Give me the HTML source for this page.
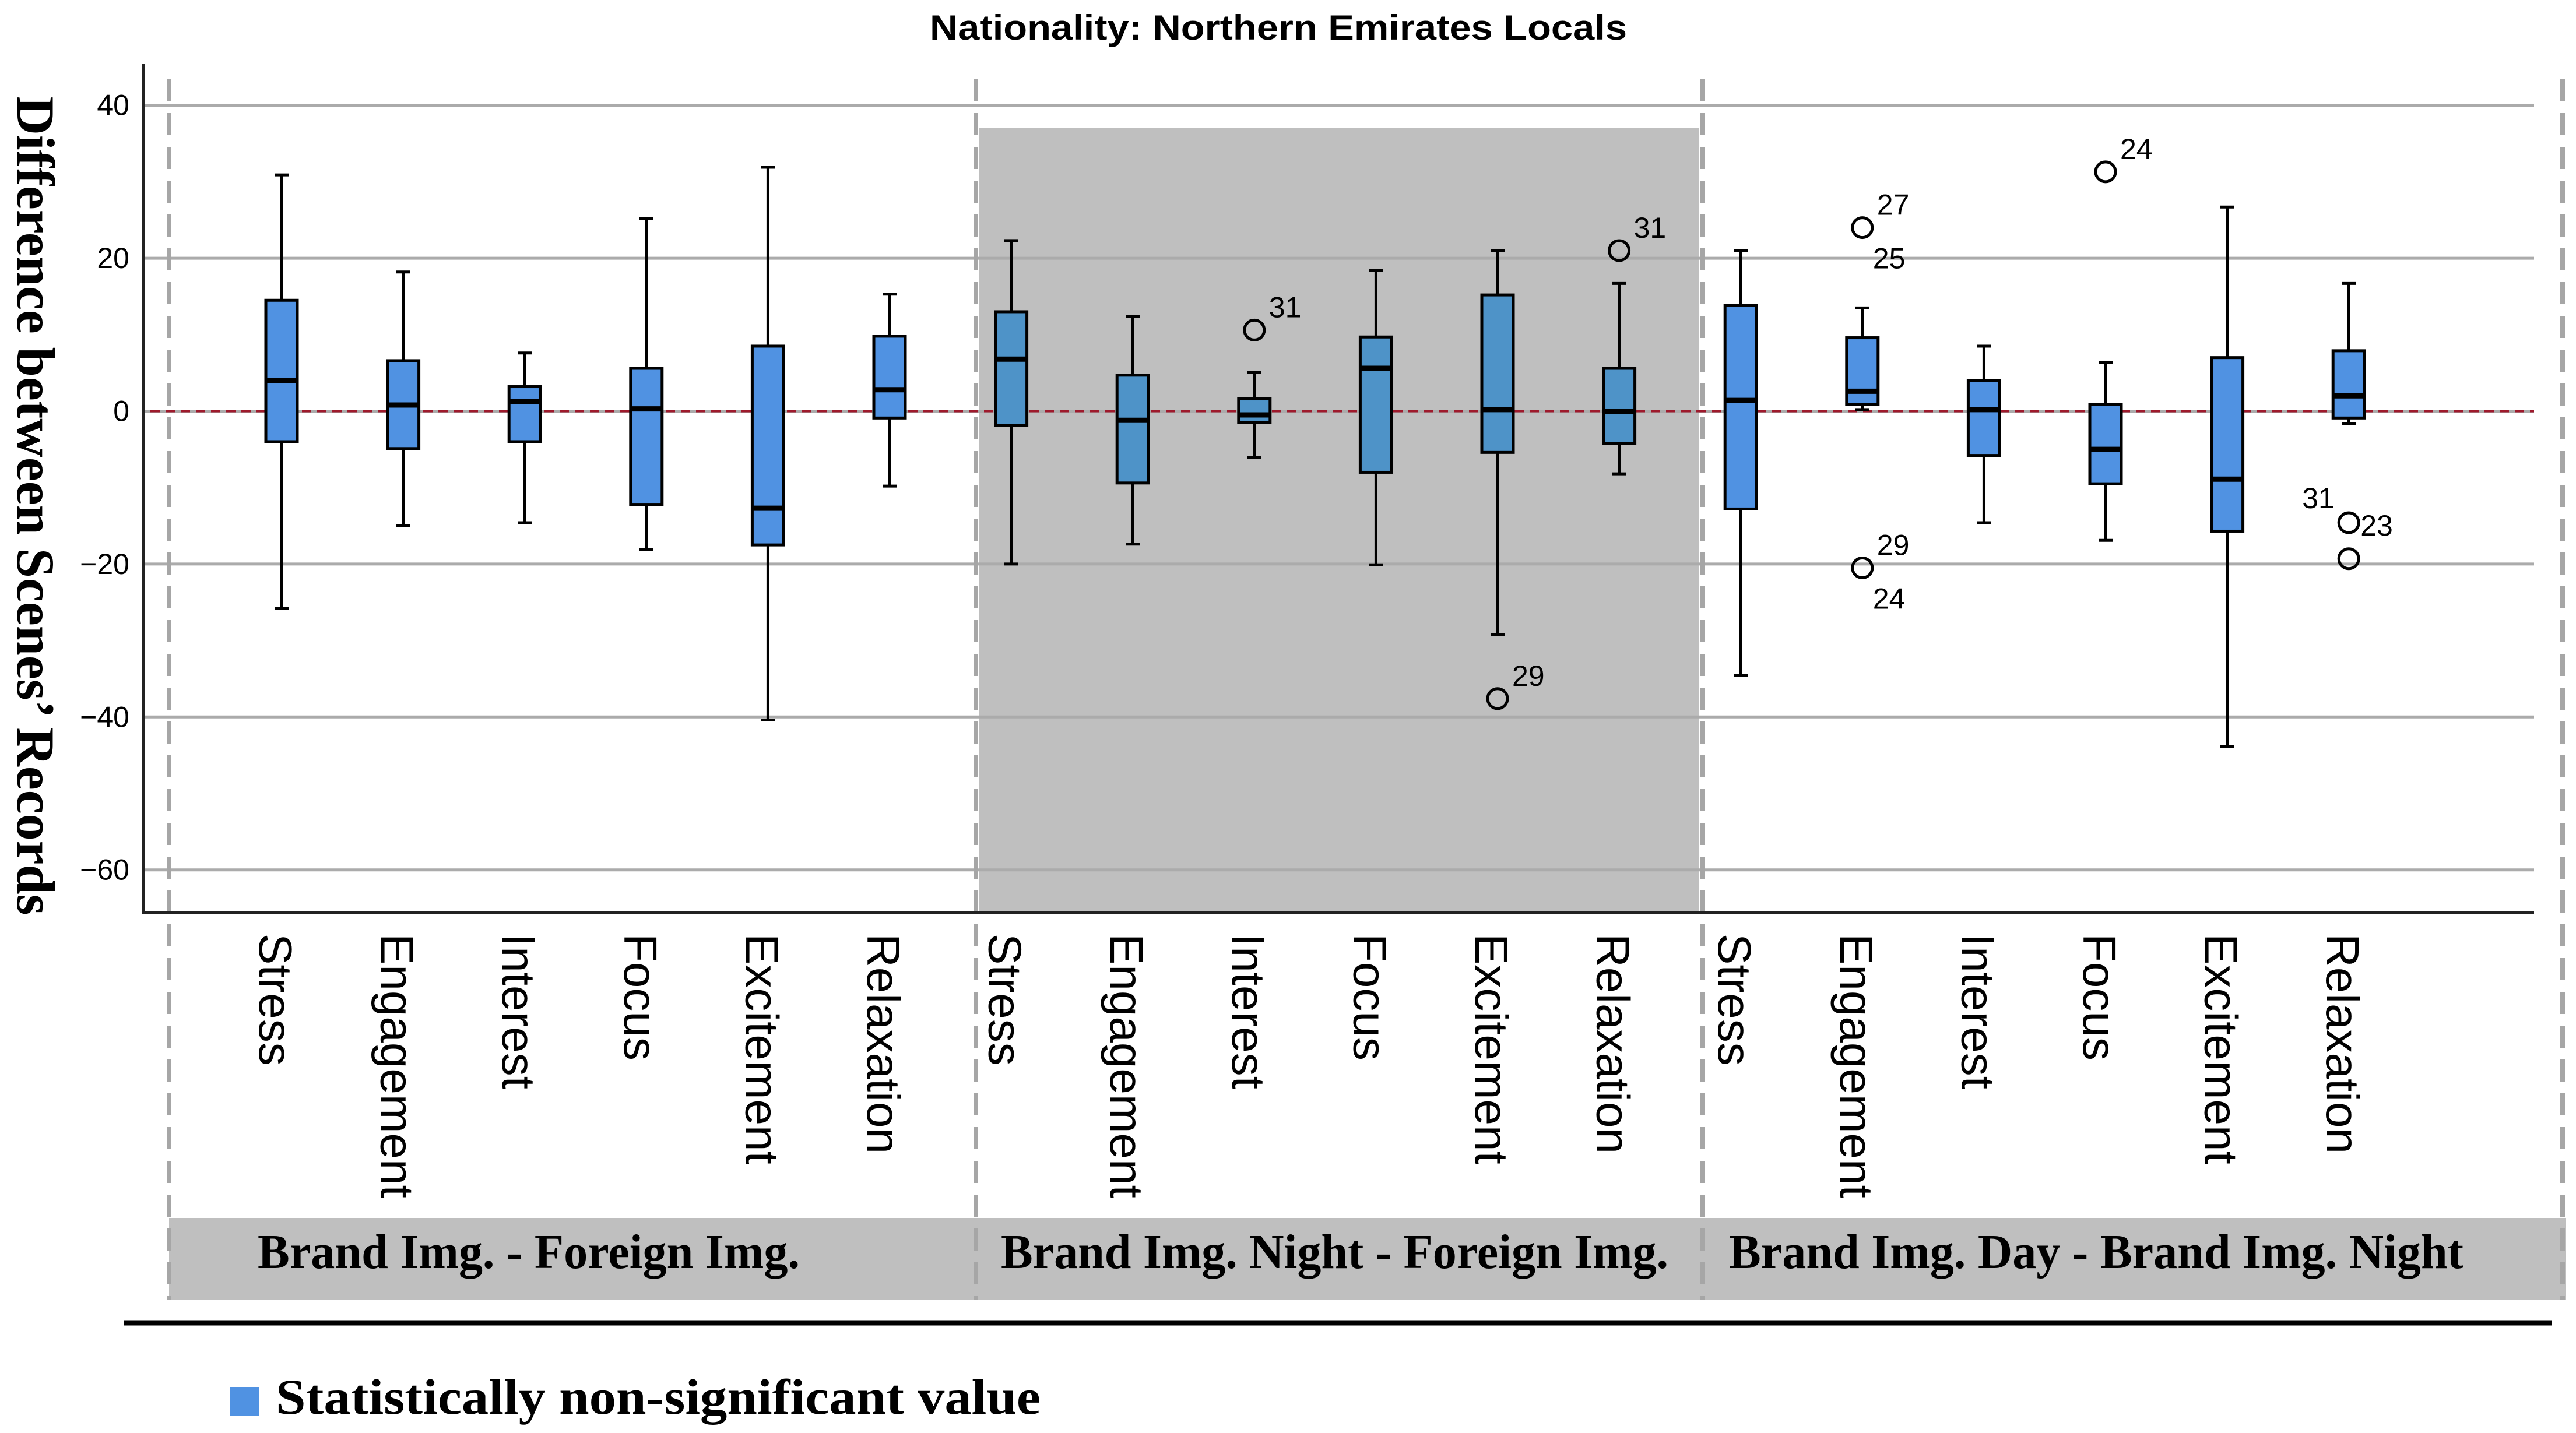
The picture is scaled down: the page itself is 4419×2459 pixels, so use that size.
<!DOCTYPE html>
<html><head><meta charset="utf-8"><style>
html,body{margin:0;padding:0;background:#fff;}
svg{display:block;}
</style></head><body>
<svg id="chart" width="4419" height="2459" viewBox="0 0 4419 2459" xmlns="http://www.w3.org/2000/svg">
<rect x="0" y="0" width="4419" height="2459" fill="#fff"/>
<text x="2193" y="68" text-anchor="middle" font-family="Liberation Sans, sans-serif" font-weight="bold" font-size="60" textLength="1196" lengthAdjust="spacingAndGlyphs">Nationality: Northern Emirates Locals</text>
<text transform="translate(30,868) rotate(90)" text-anchor="middle" font-family="Liberation Serif, serif" font-weight="bold" font-size="92" textLength="1405" lengthAdjust="spacingAndGlyphs">Difference between Scenes’ Records</text>
<g id="layer"></g>
</svg>
<script>
const categories = ["Stress","Engagement","Interest","Focus","Excitement","Relaxation","Stress","Engagement","Interest","Focus","Excitement","Relaxation","Stress","Engagement","Interest","Focus","Excitement","Relaxation"];
const groups = ["Brand Img. - Foreign Img.","Brand Img. Night - Foreign Img.","Brand Img. Day - Brand Img. Night"];
const whiskerHigh = [30.9,18.2,7.6,25.2,31.9,15.3, 22.3,12.4,5.1,18.4,21.0,16.7, 21.0,13.5,8.5,6.4,26.7,16.7];
const q3 = [14.5,6.6,3.2,5.6,8.5,9.8, 13.0,4.7,1.6,9.7,15.2,5.6, 13.8,9.6,4.0,0.9,7.0,7.9];
const medians = [4.0,0.8,1.3,0.3,-12.7,2.8, 6.8,-1.2,-0.5,5.6,0.2,0.0, 1.4,2.6,0.2,-5.0,-8.9,2.0];
const q1 = [-4.0,-4.9,-4.0,-12.2,-17.5,-0.9, -1.9,-9.4,-1.5,-8.0,-5.4,-4.2, -12.8,0.9,-5.8,-9.5,-15.7,-0.9];
const whiskerLow = [-25.8,-15.0,-14.6,-18.1,-40.4,-9.8, -20.0,-17.4,-6.1,-20.1,-29.2,-8.2, -34.6,0.2,-14.6,-16.9,-43.9,-1.6];
const outlierIndex = [8,10,11,13,13,15,17,17];
const outlierValue = [10.6,-37.6,21.0,24.0,-20.5,31.3,-14.6,-19.3];
const outlierLabels = [["31"],["29"],["31"],["27","25"],["29","24"],["24"],["31","23"],[]];
const yTicks = [40,20,0,-20,-40,-60];

const NS="http://www.w3.org/2000/svg";
const layer=document.getElementById('layer');
function mk(tag,attrs,parent){const e=document.createElementNS(NS,tag);for(const k in attrs)e.setAttribute(k,attrs[k]);(parent||layer).appendChild(e);return e;}
const y=v=>705.5-v*13.12;
const x=i=>483+i*208.6;
const PL=246,PR=4347,PT=109,PB=1566;

let r=mk('rect',{x:1679,y:219,width:1235,height:PB-219,fill:'#bfbfbf'});


yTicks.forEach(t=>{
  let g=mk('line',{x1:PL,x2:PR,y1:y(t),y2:y(t),stroke:'#ababab','stroke-width':5});
  
  
  let tx=mk('text',{x:222,y:y(t)+17,'text-anchor':'end','font-family':'Liberation Sans, sans-serif','font-size':50});
  tx.textContent=(t<0?'\u2212'+(-t):t);
  
  
});
let band=mk('rect',{x:290,y:2090,width:4112,height:140,fill:'#bfbfbf'});


const gx=[442,1717,2966],gw=[930,1145,1260];
groups.forEach((g,i)=>{
  let t=mk('text',{x:gx[i],y:2176,'font-family':'Liberation Serif, serif','font-weight':'bold','font-size':84,textLength:gw[i],lengthAdjust:'spacingAndGlyphs'});
  t.textContent=g;
  
  
});
[290,1674,2921,4396].forEach(dx=>{
  let l=mk('line',{x1:dx,x2:dx,y1:136,y2:2230,stroke:'#a6a6a6','stroke-width':8,'stroke-dasharray':'38 20'});
  
  
});
let z=mk('line',{x1:258,x2:PR,y1:y(0),y2:y(0),stroke:'#9e1a2c','stroke-width':4,'stroke-dasharray':'16 10'});


let ya=mk('line',{x1:PL,x2:PL,y1:PT,y2:PB+2,stroke:'#222','stroke-width':5});


let xa=mk('line',{x1:PL,x2:PR,y1:PB,y2:PB,stroke:'#222','stroke-width':5});


const BW=54,CW=24;
categories.forEach((c,i)=>{
  const cx=x(i);
  const g=mk('g',{});
  
  
  mk('line',{x1:cx,x2:cx,y1:y(whiskerHigh[i]),y2:y(q3[i]),stroke:'#000','stroke-width':5},g);
  mk('line',{x1:cx,x2:cx,y1:y(q1[i]),y2:y(whiskerLow[i]),stroke:'#000','stroke-width':5},g);
  mk('line',{x1:cx-CW/2,x2:cx+CW/2,y1:y(whiskerHigh[i]),y2:y(whiskerHigh[i]),stroke:'#000','stroke-width':5},g);
  mk('line',{x1:cx-CW/2,x2:cx+CW/2,y1:y(whiskerLow[i]),y2:y(whiskerLow[i]),stroke:'#000','stroke-width':5},g);
  const fill=(i>=6&&i<12)?'#4e93c8':'#5092e2';
  mk('rect',{x:cx-BW/2,y:y(q3[i]),width:BW,height:y(q1[i])-y(q3[i]),fill:fill,stroke:'#000','stroke-width':5},g);
  mk('line',{x1:cx-BW/2,x2:cx+BW/2,y1:y(medians[i]),y2:y(medians[i]),stroke:'#000','stroke-width':9},g);
  const t=mk('text',{transform:`translate(${cx-38},1602) rotate(90)`,'font-family':'Liberation Sans, sans-serif','font-size':80});
  t.textContent=c;
  
  
});
outlierIndex.forEach((idx,k)=>{
  const cx=x(idx),cy=y(outlierValue[k]);
  const o=mk('circle',{cx:cx,cy:cy,r:17,fill:'none',stroke:'#000','stroke-width':5});
  
  
});
function lbl(txt,lx,ly){const t=mk('text',{x:lx,y:ly,'font-family':'Liberation Sans, sans-serif','font-size':50});t.textContent=txt;
  
  }
outlierIndex.forEach((idx,k)=>{
  const cx=x(idx),cy=y(outlierValue[k]);const L=outlierLabels[k];
  if(L.length===0)return;
  if(idx===17&&L.length===2){lbl(L[0],cx-80,cy-25);lbl(L[1],cx+20,cy+22);return;}
  lbl(L[0],cx+25,cy-22);
  if(L.length>1)lbl(L[1],cx+18,cy+70);
});
let sep=mk('line',{x1:212,x2:4377,y1:2270,y2:2270,stroke:'#000','stroke-width':9});


let lg=mk('rect',{x:394,y:2380,width:50,height:50,fill:'#5092e2'});


let lt=mk('text',{x:473,y:2426,'font-family':'Liberation Serif, serif','font-weight':'bold','font-size':86,textLength:1312,lengthAdjust:'spacingAndGlyphs'});
lt.textContent='Statistically non-significant value';


</script>
</body></html>
